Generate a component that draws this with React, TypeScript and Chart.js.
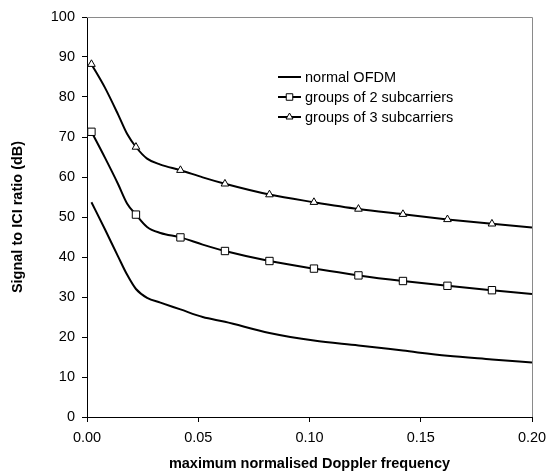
import React, { useEffect, useRef } from "react";
import { Chart, registerables } from "chart.js";

Chart.register(...registerables);

const xValues = [0.002, 0.008, 0.014, 0.018, 0.022, 0.027, 0.033, 0.042, 0.052, 0.062, 0.082, 0.102, 0.122, 0.142, 0.162, 0.182, 0.2];
const normalOFDM = [53.7, 47.0, 40.1, 35.6, 32.0, 29.8, 28.6, 26.9, 25.0, 23.8, 21.0, 19.1, 17.9, 16.6, 15.3, 14.4, 13.6];
const groupsOf2 = [71.3, 64.9, 58.2, 53.4, 50.6, 47.5, 46.0, 44.9, 43.1, 41.5, 39.0, 37.1, 35.4, 34.0, 32.8, 31.7, 30.75];
const groupsOf3 = [88.2, 82.4, 75.6, 70.8, 67.5, 64.6, 63.1, 61.7, 59.9, 58.3, 55.6, 53.7, 52.0, 50.7, 49.4, 48.3, 47.4];
const markerX = [0.002, 0.022, 0.042, 0.062, 0.082, 0.102, 0.122, 0.142, 0.162, 0.182];
const seriesLabels = ["normal OFDM", "groups of 2 subcarriers", "groups of 3 subcarriers"];
const xTitle = "maximum normalised Doppler frequency";
const yTitle = "Signal to ICI ratio (dB)";

const FONT = "'Liberation Sans', Arial, Helvetica, sans-serif";

export default function App() {
  const ref = useRef<HTMLCanvasElement>(null);

  useEffect(() => {
    const canvas = ref.current;
    if (!canvas) return;
    const toPts = (ys: number[]) => xValues.map((x, i) => ({ x, y: ys[i] }));
    const radii = (r: number) =>
      xValues.map((x) => (markerX.some((m) => Math.abs(m - x) < 1e-9) ? r : 0));

    const frame = {
      id: "frame",
      beforeDatasetsDraw(chart: any) {
        const { ctx, chartArea } = chart;
        ctx.save();
        ctx.strokeStyle = "#8a8a8a";
        ctx.lineWidth = 1;
        ctx.beginPath();
        ctx.moveTo(chartArea.left, chartArea.top + 0.5);
        ctx.lineTo(chartArea.right + 0.5, chartArea.top + 0.5);
        ctx.lineTo(chartArea.right + 0.5, chartArea.bottom);
        ctx.stroke();
        ctx.restore();
      },
    };

    const drawMarker = (ctx: CanvasRenderingContext2D, style: string, x: number, y: number, r: number) => {
      ctx.save();
      ctx.fillStyle = "#fff";
      ctx.strokeStyle = "#000";
      ctx.lineWidth = 1;
      ctx.beginPath();
      if (style === "rect") {
        const s = r * Math.SQRT1_2;
        ctx.rect(x - s, y - s, 2 * s, 2 * s);
      } else if (style === "triangle") {
        let rad = 0;
        ctx.moveTo(x + Math.sin(rad) * r, y - Math.cos(rad) * r);
        rad += (2 * Math.PI) / 3;
        ctx.lineTo(x + Math.sin(rad) * r, y - Math.cos(rad) * r);
        rad += (2 * Math.PI) / 3;
        ctx.lineTo(x + Math.sin(rad) * r, y - Math.cos(rad) * r);
        ctx.closePath();
      }
      ctx.fill();
      ctx.stroke();
      ctx.restore();
    };

    const legend = {
      id: "customLegend",
      afterDraw(chart: any) {
        const { ctx } = chart;
        chart.data.datasets.forEach((ds: any, i: number) => {
          const y = 77 + i * 20;
          ctx.save();
          ctx.strokeStyle = "#000";
          ctx.lineWidth = 2;
          ctx.beginPath();
          ctx.moveTo(278, y);
          ctx.lineTo(301, y);
          ctx.stroke();
          ctx.restore();
          if (ds.legendMarker) drawMarker(ctx, ds.legendMarker, 289.5, y, ds.legendRadius);
          ctx.save();
          ctx.fillStyle = "#000";
          ctx.font = `14.5px ${FONT}`;
          ctx.textBaseline = "middle";
          ctx.textAlign = "left";
          ctx.fillText(ds.label, 305, y + 0.5);
          ctx.restore();
        });
      },
    };

    const chart = new Chart(canvas, {
      type: "line",
      data: {
        datasets: [
          {
            label: seriesLabels[0],
            data: toPts(normalOFDM),
            borderColor: "#000",
            borderWidth: 2,
            pointRadius: 0,
            cubicInterpolationMode: "monotone",
          },
          {
            label: seriesLabels[1],
            data: toPts(groupsOf2),
            borderColor: "#000",
            borderWidth: 2,
            pointStyle: "rect",
            pointRadius: radii(5.2),
            pointBorderColor: "#000",
            pointBackgroundColor: "#fff",
            pointBorderWidth: 1,
            cubicInterpolationMode: "monotone",
            legendMarker: "rect",
            legendRadius: 4.6,
          } as any,
          {
            label: seriesLabels[2],
            data: toPts(groupsOf3),
            borderColor: "#000",
            borderWidth: 2,
            pointStyle: "triangle",
            pointRadius: radii(4.4),
            pointBorderColor: "#000",
            pointBackgroundColor: "#fff",
            pointBorderWidth: 1,
            cubicInterpolationMode: "monotone",
            legendMarker: "triangle",
            legendRadius: 4,
          } as any,
        ],
      },
      options: {
        responsive: false,
        animation: false,
        layout: { padding: { top: 17, right: 16, left: 0, bottom: 0 } },
        plugins: {
          legend: { display: false },
          tooltip: { enabled: false },
        },
        scales: {
          x: {
            type: "linear",
            min: 0,
            max: 0.2,
            ticks: {
              stepSize: 0.05,
              callback: (v: any) => Number(v).toFixed(2),
              font: { family: FONT, size: 14.5 },
              color: "#000",
              padding: 7,
              maxRotation: 0,
            },
            grid: { display: true, drawOnChartArea: false, drawTicks: true, tickLength: 5, color: "#000" },
            border: { display: true, color: "#000", width: 1 },
            title: {
              display: true,
              text: xTitle,
              color: "#000",
              font: { family: FONT, size: 14.5, weight: "bold" },
              padding: { top: 0, bottom: -1 },
            },
            afterFit: (s: any) => {
              s.height = 55;
              s.paddingRight = 0;
              s.paddingLeft = 0;
            },
          },
          y: {
            type: "linear",
            min: 0,
            max: 100,
            ticks: {
              stepSize: 10,
              font: { family: FONT, size: 14.5 },
              color: "#000",
              padding: 7,
            },
            grid: { display: true, drawOnChartArea: false, drawTicks: true, tickLength: 5, color: "#000" },
            border: { display: true, color: "#000", width: 1 },
            title: {
              display: true,
              text: yTitle,
              color: "#000",
              font: { family: FONT, size: 14.5, weight: "bold" },
              padding: { top: 9, bottom: 0 },
            },
            afterFit: (s: any) => {
              s.width = 87;
              s.paddingTop = 0;
              s.paddingBottom = 0;
            },
          },
        },
      } as any,
      plugins: [frame, legend],
    });

    return () => chart.destroy();
  }, []);

  return (
    <div style={{ position: "fixed", left: 0, top: 0, width: 548, height: 472, background: "#fff" }}>
      <canvas ref={ref} width={548} height={472} style={{ width: 548, height: 472, display: "block" }} />
    </div>
  );
}
